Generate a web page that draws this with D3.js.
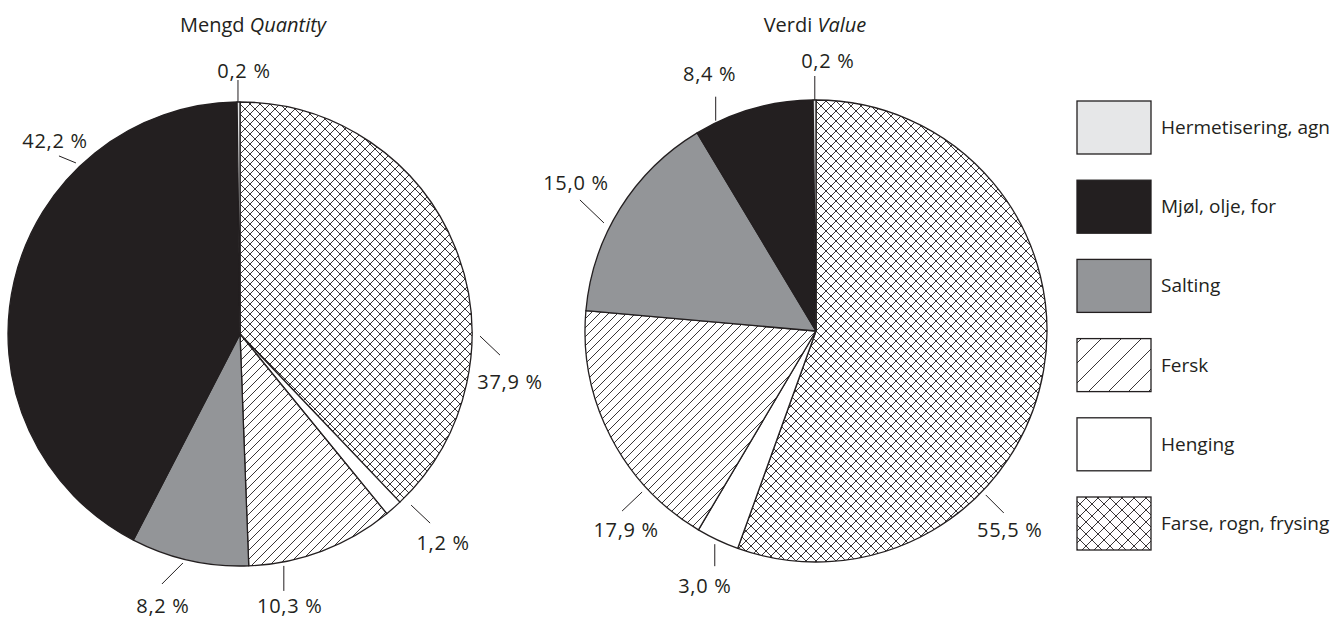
<!DOCTYPE html>
<html>
<head>
<meta charset="utf-8">
<script src="https://cdn.jsdelivr.net/npm/d3@7"></script>
<style>
  html, body { margin: 0; padding: 0; background: #fff; }
  svg { display: block; }
  text { font-family: "Open Sans", "Noto Sans", sans-serif; fill: #231f20; }
</style>
</head>
<body>
<svg id="chart" width="1336" height="619"></svg>
<script>
// ---- data ----
const categories = ["Farse, rogn, frysing", "Henging", "Fersk", "Salting", "Mjøl, olje, for", "Hermetisering, agn"];
const quantityValues = [37.9, 1.2, 10.3, 8.2, 42.2, 0.2];
const valueValues = [55.5, 3.0, 17.9, 15.0, 8.4, 0.2];
const quantityLabels = ["37,9 %", "1,2 %", "10,3 %", "8,2 %", "42,2 %", "0,2 %"];
const valueLabels = ["55,5 %", "3,0 %", "17,9 %", "15,0 %", "8,4 %", "0,2 %"];
const chartTitles = [["Mengd", "Quantity"], ["Verdi", "Value"]];

// ---- styling / layout ----
const ink = "#231f20";
const fills = ["url(#cross)", "#ffffff", "url(#hatch)", "#939598", "#231f20", "#e6e7e8"];
const legendFills = ["url(#crossL)", "#ffffff", "url(#hatchL)", "#939598", "#231f20", "#e6e7e8"];

const svg = d3.select("#chart");
const defs = svg.append("defs");

function hatchPattern(id, size, cross) {
  const p = defs.append("pattern").attr("id", id)
    .attr("patternUnits", "userSpaceOnUse").attr("width", size).attr("height", size);
  p.append("rect").attr("width", size).attr("height", size).attr("fill", "#fff");
  const s = size;
  const lines = [[0, s, s, 0], [-s / 2, s / 2, s / 2, -s / 2], [s / 2, s * 1.5, s * 1.5, s / 2]];
  if (cross) lines.push([0, 0, s, s], [-s / 2, s / 2, s / 2, s * 1.5], [s / 2, -s / 2, s * 1.5, s / 2]);
  lines.forEach(l => p.append("line")
    .attr("x1", l[0]).attr("y1", l[1]).attr("x2", l[2]).attr("y2", l[3])
    .attr("stroke", ink).attr("stroke-width", 0.9));
}
hatchPattern("hatch", 9, false);
hatchPattern("cross", 10, true);
hatchPattern("hatchL", 20, false);
hatchPattern("crossL", 12, true);

// label layout: theta = angle on pie (deg, clockwise from top), gap from rim,
// (lx,ly) leader vector, (tx,ty) text offset from leader end
const quantityLayout = [
  { theta: 90.5, gap: 8, lx: 20, ly: 19, tx: 10, ty: 34 },
  { theta: 135, gap: 10, lx: 19, ly: 18, tx: 13, ty: 27 },
  { theta: 169.3, gap: 4, lx: 0, ly: 25, tx: 6, ty: 22 },
  { theta: 194, gap: 4, lx: -21, ly: 21, tx: 1, ty: 29 },
  { theta: 316.2, gap: 5, lx: -17, ly: -7, tx: -4, ty: -8 },
  { theta: 359.5, gap: 0, lx: 0, ly: -22, tx: 6, ty: -2 }
];
const valueLayout = [
  { theta: 134, gap: 5, lx: 18, ly: 18, tx: 6, ty: 24 },
  { theta: 205.4, gap: 5, lx: 0, ly: 22, tx: -10, ty: 27 },
  { theta: 227.2, gap: 6, lx: -20, ly: 19, tx: 4, ty: 26 },
  { theta: 297, gap: 7, lx: -24, ly: -23, tx: -4, ty: -10 },
  { theta: 334.5, gap: 2, lx: 0, ly: -24, tx: -6, ty: -16 },
  { theta: 359.7, gap: 0, lx: 0, ly: -24, tx: 13, ty: -8 }
];

const pies = [
  { cx: 240, cy: 334, r: 232, values: quantityValues, labels: quantityLabels, layout: quantityLayout, title: chartTitles[0] },
  { cx: 816, cy: 331, r: 231, values: valueValues, labels: valueLabels, layout: valueLayout, title: chartTitles[1] }
];

const pieGen = d3.pie().sort(null).value(d => d);

pies.forEach(cfg => {
  const g = svg.append("g").attr("transform", `translate(${cfg.cx},${cfg.cy})`);
  const arc = d3.arc().innerRadius(0).outerRadius(cfg.r);
  const arcs = pieGen(cfg.values);
  g.selectAll("path.slice").data(arcs).join("path")
    .attr("class", "slice")
    .attr("d", arc)
    .attr("fill", (d, i) => fills[i])
    .attr("stroke", ink).attr("stroke-width", 1.3).attr("stroke-linejoin", "round");

  // leader lines + labels
  arcs.forEach((d, i) => {
    const L = cfg.layout[i];
    const a = L.theta * Math.PI / 180;
    const rr = cfg.r + L.gap;
    const x1 = rr * Math.sin(a), y1 = -rr * Math.cos(a);
    const x2 = x1 + L.lx, y2 = y1 + L.ly;
    g.append("line").attr("x1", x1).attr("y1", y1).attr("x2", x2).attr("y2", y2)
      .attr("stroke", ink).attr("stroke-width", 1);
    g.append("text").attr("x", x2 + L.tx).attr("y", y2 + L.ty)
      .attr("text-anchor", "middle").attr("font-size", 20)
      .attr("letter-spacing", 0.7)
      .text(cfg.labels[i]);
  });

  const t = svg.append("text").attr("x", cfg.cx + (cfg.cx < 500 ? 13 : -1)).attr("y", 32)
    .attr("text-anchor", "middle").attr("font-size", 20);
  t.append("tspan").text(cfg.title[0] + " ");
  t.append("tspan").attr("font-style", "italic").text(cfg.title[1]);
});

// legend
const legendOrder = d3.range(categories.length).reverse();
const ly = d3.scalePoint().domain(legendOrder).range([101, 497]);
const lg = svg.append("g");
legendOrder.forEach(i => {
  lg.append("rect").attr("x", 1077).attr("y", ly(i)).attr("width", 74).attr("height", 53)
    .attr("fill", legendFills[i]).attr("stroke", ink).attr("stroke-width", 1.3);
  lg.append("text").attr("x", 1161).attr("y", ly(i) + 33).attr("font-size", 19)
    .text(categories[i]);
});
</script>
</body>
</html>
